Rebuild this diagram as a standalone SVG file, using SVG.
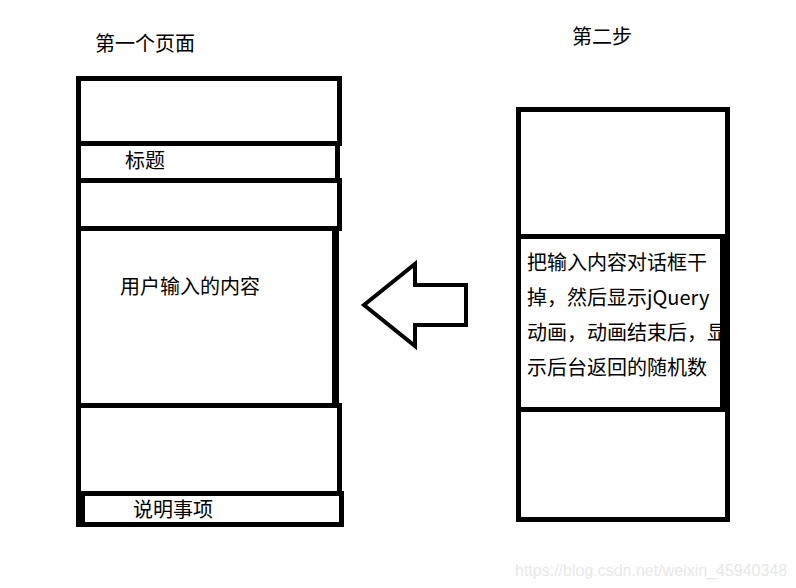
<svg xmlns="http://www.w3.org/2000/svg" width="796" height="588" viewBox="0 0 796 588">
<style>
.box{fill:#fff;stroke:#000;stroke-width:5}
.t{font-family:"Microsoft YaHei","Noto Sans CJK SC","Noto Sans",sans-serif;font-size:20px;fill:#000}
.bar{fill:#000}
.wm{font-family:"Liberation Sans",Arial,sans-serif;font-size:16px;fill:#e8e8e8}
</style>
<rect width="796" height="588" fill="#fff"/>
<text class="t" x="95" y="51">第一个页面</text>
<text class="t" x="572" y="44">第二步</text>
<g id="left-top"><rect class="box" x="78.5" y="78.5" width="261" height="65"/></g>
<g id="left-title"><rect class="box" x="78.5" y="143.5" width="259" height="37"/><text class="t" x="125" y="168">标题</text></g>
<g id="left-gap"><rect class="box" x="78.5" y="180.5" width="261" height="48"/></g>
<g id="left-content"><rect class="box" x="78.5" y="228.5" width="256" height="177"/><rect class="bar" x="332" y="226" width="7" height="182"/><text class="t" x="120" y="294">用户输入的内容</text></g>
<g id="left-lower"><rect class="box" x="78.5" y="405.5" width="261" height="88"/></g>
<g id="left-notes"><rect class="box" x="78.5" y="493.5" width="263" height="31"/><rect class="bar" x="76" y="491" width="9" height="36"/><text class="t" x="133" y="517">说明事项</text></g>
<g id="connectors"><polygon points="364,305 415,264 415,285 466,285 466,325 415,325 415,346" fill="#fff" stroke="#000" stroke-width="4" stroke-linejoin="miter"/></g>
<g id="right-top"><rect class="box" x="518.5" y="109.5" width="209" height="127"/></g>
<g id="right-middle"><rect class="box" x="518.5" y="236.5" width="209" height="173"/>
<text class="t" x="527" y="270">把输入内容对话框干</text>
<text class="t" x="527" y="305">掉，然后显示jQuery</text>
<text class="t" x="527" y="340">动画，动画结束后，显</text>
<text class="t" x="527" y="375">示后台返回的随机数</text>
<rect class="bar" x="720" y="234" width="10" height="178"/></g>
<g id="right-bottom"><rect class="box" x="518.5" y="409.5" width="209" height="110"/></g>
<text class="wm" x="515" y="576">https://blog.csdn.net/weixin_45940348</text>
</svg>
